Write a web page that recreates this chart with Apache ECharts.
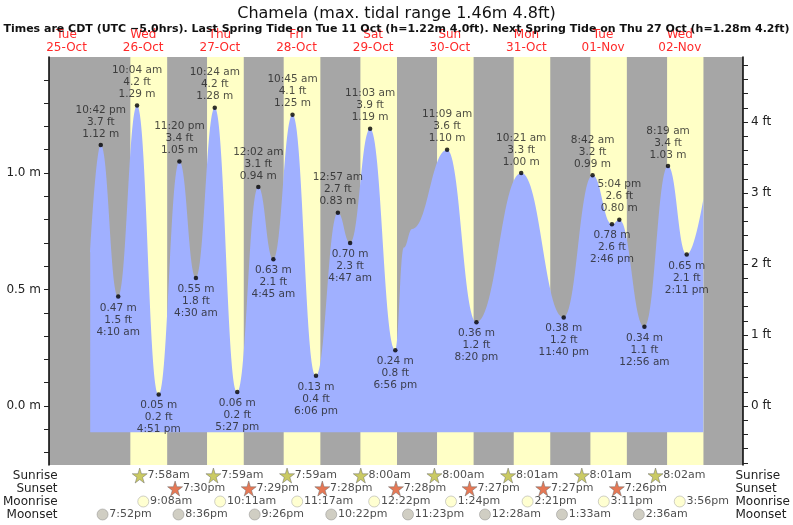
<!DOCTYPE html>
<html><head><meta charset="utf-8">
<script src="https://cdn.jsdelivr.net/npm/echarts@6/dist/echarts.min.js"></script>
<style>html,body{margin:0;padding:0;background:#fff}#c{width:793px;height:525px}</style>
</head><body><div id="c"></div>
<script>
// hours are counted from Tue 25-Oct 00:00 CDT
const dayNames = ['Tue','Wed','Thu','Fri','Sat','Sun','Mon','Tue','Wed'];
const dayDates = ['25-Oct','26-Oct','27-Oct','28-Oct','29-Oct','30-Oct','31-Oct','01-Nov','02-Nov'];
const extDay  = [0,1,1,1,1,2,2,2,3,3,3,3,4,4,4,4,5,5,6,6,7,7,7,8,8,8];
const extTime = ['10:42 pm','4:10 am','10:04 am','4:51 pm','11:20 pm','4:30 am','10:24 am','5:27 pm','12:02 am','4:45 am','10:45 am','6:06 pm','12:57 am','4:47 am','11:03 am','6:56 pm','11:09 am','8:20 pm','10:21 am','11:40 pm','8:42 am','2:46 pm','5:04 pm','12:56 am','8:19 am','2:11 pm'];
const extM    = [1.12,0.47,1.29,0.05,1.05,0.55,1.28,0.06,0.94,0.63,1.25,0.13,0.83,0.70,1.19,0.24,1.10,0.36,1.00,0.38,0.99,0.78,0.80,0.34,1.03,0.65];
const extFt   = ['3.7','1.5','4.2','0.2','3.4','1.8','4.2','0.2','3.1','2.1','4.1','0.4','2.7','2.3','3.9','0.8','3.6','1.2','3.3','1.2','3.2','2.6','2.6','1.1','3.4','2.1'];
const extHigh = [1,0,1,0,1,0,1,0,1,0,1,0,1,0,1,0,1,0,1,0,1,0,1,0,1,0];
// extra curve points (start, shoulder on 30-Oct, end)
const extraPts = [[19.4,0.66],[117.6,0.68],[120.2,0.76],[211.4,0.89]];
const sunriseDay = [1,2,3,4,5,6,7,8];
const sunrise = ['7:58am','7:59am','7:59am','8:00am','8:00am','8:01am','8:01am','8:02am'];
const sunsetDay = [1,2,3,4,5,6,7,8];
const sunset  = ['7:30pm','7:29pm','7:28pm','7:28pm','7:27pm','7:27pm','7:26pm','7:25pm'];
const sunsetShown = [1,1,1,1,1,1,1,0];
const moonriseDay = [1,2,3,4,5,6,7,8];
const moonrise = ['9:08am','10:11am','11:17am','12:22pm','1:24pm','2:21pm','3:11pm','3:56pm'];
const moonsetDay = [0,1,2,3,4,6,7,8];
const moonset = ['7:52pm','8:36pm','9:26pm','10:22pm','11:23pm','12:28am','1:33am','2:36am'];

function hrs(day, t){
  const m = t.replace(' ','').match(/(\d+):(\d+)(am|pm)/);
  let h = (+m[1])%12; if(m[3]==='pm') h+=12;
  return day*24 + h + (+m[2])/60;
}
const FT = 3.28084;
const ymin=-0.253, ymax=1.498, waterBase=-0.112;
const extPts = extM.map((v,i)=>({value:[hrs(extDay[i],extTime[i]), v], idx:i,
  label:{position: extHigh[i]?'top':'bottom', distance:3}}));
const curve = extPts.map(p=>p.value.slice()).concat(extraPts).sort((a,b)=>a[0]-b[0]);
const dayAreas = sunrise.map((s,i)=>[{xAxis:hrs(sunriseDay[i],s)},{xAxis:hrs(sunsetDay[i],sunset[i])}]);
const rowPts = (days,times,row,shown)=>times.map((t,i)=>({value:[hrs(days[i],t),row],name:t})).filter((p,i)=>!shown||shown[i]);
const star='path://M50,0 L61,35 L98,35 L68,57 L79,91 L50,70 L21,91 L32,57 L2,35 L39,35Z';
const rowLabel={show:true,position:'right',distance:0,formatter:p=>p.name,color:'#222',fontSize:11,fontFamily:'DejaVu Sans'};

const chart = echarts.init(document.getElementById('c'));
chart.setOption({
  animation:false,
  title:[{text:'Chamela (max. tidal range 1.46m 4.8ft)',left:'center',top:1,textStyle:{fontSize:16,fontWeight:'normal',color:'#111',fontFamily:'DejaVu Sans'}},
         {text:'Times are CDT (UTC −5.0hrs). Last Spring Tide on Tue 11 Oct (h=1.22m 4.0ft). Next Spring Tide on Thu 27 Oct (h=1.28m 4.2ft)',left:'center',top:19,textStyle:{fontSize:11,fontWeight:'bold',color:'#111',fontFamily:'DejaVu Sans'}}],
  grid:[{left:49,right:50,top:57,bottom:60,show:true,backgroundColor:'#a6a6a6',borderWidth:0},
        {left:49,right:50,top:469,height:52,show:false}],
  xAxis:[{type:'value',gridIndex:0,min:6.5,max:223.8,position:'top',splitLine:{show:false},axisLine:{show:false},axisTick:{show:false},
          axisLabel:{customValues:dayNames.map((d,i)=>i*24+12),formatter:v=>{const i=Math.round((v-12)/24);return dayNames[i]+'\n'+dayDates[i];},color:'#ff2a2a',fontSize:12,lineHeight:13,margin:3,fontFamily:'DejaVu Sans'}},
         {type:'value',gridIndex:1,min:6.5,max:223.8,show:false}],
  yAxis:[{type:'value',gridIndex:0,min:ymin,max:ymax,splitLine:{show:false},
          axisLine:{show:true,lineStyle:{color:'#000',width:1.5}},
          axisTick:{show:true,customValues:[-0.2,-0.1,0,0.1,0.2,0.3,0.4,0.5,0.6,0.7,0.8,0.9,1.0,1.1,1.2,1.3,1.4],length:5,lineStyle:{color:'#222'}},
          axisLabel:{customValues:[0,0.5,1.0],formatter:v=>v.toFixed(1)+' m',color:'#222',fontSize:12,fontFamily:'DejaVu Sans',margin:8}},
         {type:'value',gridIndex:0,min:ymin*FT,max:ymax*FT,position:'right',splitLine:{show:false},
          axisLine:{show:true,lineStyle:{color:'#000',width:1.5}},
          axisTick:{show:true,customValues:Array.from({length:29},(_,i)=>Math.round((-0.8+i*0.2)*10)/10),length:5,lineStyle:{color:'#222'}},
          axisLabel:{customValues:[0,1,2,3,4],formatter:v=>v+' ft',color:'#222',fontSize:12,fontFamily:'DejaVu Sans',margin:8}},
         {type:'category',gridIndex:1,data:['Moonset','Moonrise','Sunset','Sunrise'],axisLine:{show:false},axisTick:{show:false},
          axisLabel:{interval:0,color:'#222',fontSize:12,fontFamily:'DejaVu Sans',margin:4}},
         {type:'category',gridIndex:1,position:'right',data:['Moonset','Moonrise','Sunset','Sunrise'],axisLine:{show:false},axisTick:{show:false},
          axisLabel:{interval:0,color:'#222',fontSize:12,fontFamily:'DejaVu Sans',margin:7,align:'left'}}],
  series:[
    {type:'line',xAxisIndex:0,yAxisIndex:0,data:[],markArea:{silent:true,itemStyle:{color:'#ffffc6'},data:dayAreas}},
    {type:'line',xAxisIndex:0,yAxisIndex:0,data:curve,smooth:0.45,smoothMonotone:'x',showSymbol:false,
     lineStyle:{width:0},areaStyle:{color:'#a0b0ff',opacity:1,origin:waterBase},z:3},
    {type:'scatter',xAxisIndex:0,yAxisIndex:0,data:extPts,symbolSize:4.5,itemStyle:{color:'#000'},z:5,
     label:{show:true,color:'#222',fontSize:10.5,fontFamily:'DejaVu Sans',lineHeight:12,
       formatter:p=>{const i=p.data.idx;return extHigh[i]?extTime[i]+'\n'+extFt[i]+' ft\n'+extM[i].toFixed(2)+' m':extM[i].toFixed(2)+' m\n'+extFt[i]+' ft\n'+extTime[i];}}},
    {type:'scatter',xAxisIndex:1,yAxisIndex:2,data:rowPts(sunriseDay,sunrise,'Sunrise'),symbol:star,symbolSize:15,
     itemStyle:{color:'#bdbd3c',borderColor:'#666',borderWidth:0.6},label:rowLabel},
    {type:'scatter',xAxisIndex:1,yAxisIndex:2,data:rowPts(sunsetDay,sunset,'Sunset',sunsetShown),symbol:star,symbolSize:15,
     itemStyle:{color:'#e0562a',borderColor:'#666',borderWidth:0.6},label:rowLabel},
    {type:'scatter',xAxisIndex:1,yAxisIndex:2,data:rowPts(moonriseDay,moonrise,'Moonrise'),symbol:'circle',symbolSize:11,
     itemStyle:{color:'#ffffc6',borderColor:'#999',borderWidth:0.6},label:{...rowLabel,distance:1}},
    {type:'scatter',xAxisIndex:1,yAxisIndex:2,data:rowPts(moonsetDay,moonset,'Moonset'),symbol:'circle',symbolSize:11,
     itemStyle:{color:'#c4c2b4',borderColor:'#888',borderWidth:0.6},label:{...rowLabel,distance:1}}
  ]
});
</script></body></html>
